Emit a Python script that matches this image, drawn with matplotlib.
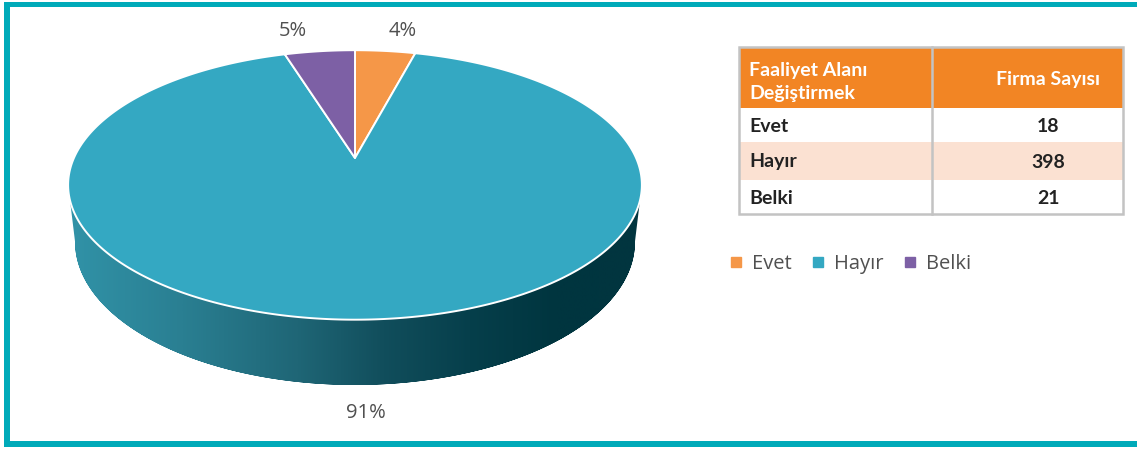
import numpy as np
import matplotlib
matplotlib.use("Agg")
import matplotlib.pyplot as plt
from matplotlib.patches import Polygon, Rectangle
from matplotlib.lines import Line2D
from matplotlib.colors import LinearSegmentedColormap

# --- data -----------------------------------------------------------------
categories = ["Evet", "Hayır", "Belki"]
counts = [18, 398, 21]
percent_labels = ["4%", "91%", "5%"]
slice_colors = ["#f59748", "#34a8c2", "#7d60a5"]
header_labels = ["Faaliyet Alanı\nDeğiştirmek", "Firma Sayısı"]

# --- canvas (pixel coordinates, y downwards) -------------------------------
W, H = 1137, 449
fig = plt.figure(figsize=(W / 100, H / 100), dpi=100)
ax = fig.add_axes([0, 0, 1, 1])
ax.set_xlim(0, W)
ax.set_ylim(H, 0)
ax.axis("off")

# teal frame: left, top and bottom rules
frame_col = "#00aab9"
ax.add_patch(Rectangle((4, 2), 6, 445, color=frame_col, lw=0, zorder=1))
ax.add_patch(Rectangle((4, 2), W, 5, color=frame_col, lw=0, zorder=1))
ax.add_patch(Rectangle((4, 441), W, 6, color=frame_col, lw=0, zorder=1))

# --- perspective 3D pie ----------------------------------------------------
ELEV = np.radians(27.4)   # camera elevation
DIST = 4.44               # camera distance in pie radii
DEPTH = 0.231             # thickness of the disc
SCALE = 1248.0
CX, CY = 355.0, 158.0


def project(x, y, z):
    s, c = np.sin(ELEV), np.cos(ELEV)
    den = DIST + y * c - z * s
    sx = x / den
    sy = (y * s + z * c) / den
    return CX + SCALE * sx, CY - SCALE * sy


t = np.radians(np.linspace(0, 360, 1441))
tx_top, ty_top = project(np.cos(t), np.sin(t), 0.0)
tx_bot, ty_bot = project(np.cos(t), np.sin(t), -DEPTH)

# silhouette points of both rims
i_l_top, i_r_top = np.argmin(tx_top), np.argmax(tx_top)
i_l_bot, i_r_bot = np.argmin(tx_bot), np.argmax(tx_bot)


def front_arc(ang_left, ang_right, z):
    # from left silhouette through the front (270 deg) to right silhouette
    a0 = np.degrees(ang_left)
    a1 = np.degrees(ang_right) + 360.0
    aa = np.radians(np.linspace(a0, a1, 400))
    return project(np.cos(aa), np.sin(aa), z)


ux, uy = front_arc(t[i_l_top], t[i_r_top], 0.0)
lx, ly = front_arc(t[i_l_bot], t[i_r_bot], -DEPTH)
side_xy = np.column_stack([np.r_[ux, lx[::-1]], np.r_[uy, ly[::-1]]])
side_poly = Polygon(side_xy, closed=True, facecolor="none", edgecolor="none")
ax.add_patch(side_poly)

# horizontally shaded side wall
x0, x1 = side_xy[:, 0].min() - 2, side_xy[:, 0].max() + 2
y0, y1 = side_xy[:, 1].min() - 2, side_xy[:, 1].max() + 2
stops = [(0.00, "#3193a8"), (0.20, "#2a7f92"), (0.40, "#1f6676"),
         (0.55, "#114e5c"), (0.70, "#063f4b"), (0.85, "#00353f"),
         (1.00, "#02353f")]
side_cmap = LinearSegmentedColormap.from_list("side", stops)
grad = np.linspace(0, 1, 512)[None, :]
im = ax.imshow(grad, cmap=side_cmap, extent=[x0, x1, y1, y0],
               aspect="auto", interpolation="bilinear", zorder=2)
im.set_clip_path(side_poly)

# top face slices, clockwise from 12 o'clock
fracs = np.array(counts, dtype=float) / np.sum(counts)
start = 90.0
for frac, col in zip(fracs, slice_colors):
    end = start - frac * 360.0
    aa = np.radians(np.linspace(start, end, max(int(abs(end - start) * 4), 8)))
    px, py = project(np.cos(aa), np.sin(aa), 0.0)
    apx, apy = project(0.0, 0.0, 0.0)
    pts = np.column_stack([np.r_[apx, px], np.r_[apy, py]])
    ax.add_patch(Polygon(pts, closed=True, facecolor=col, edgecolor="white",
                         lw=1.4, joinstyle="round", zorder=3))
    start = end

# percentage labels
label_font = dict(family=["Open Sans", "DejaVu Sans"], fontsize=14.5,
                  color="#505050", ha="center", va="center", zorder=5)
label_pos = {"4%": (403, 31), "91%": (366, 413), "5%": (293, 31)}
for lab in percent_labels:
    ax.text(*label_pos[lab], lab, **label_font)

# --- data table ------------------------------------------------------------
tab_left, tab_mid, tab_right = 739, 932, 1123
row_edges = [47, 108, 142, 180, 214]
row_fills = ["#f28524", "#ffffff", "#fbe1d2", "#ffffff"]
for k, fill in enumerate(row_fills):
    ax.add_patch(Rectangle((tab_left, row_edges[k]), tab_right - tab_left,
                           row_edges[k + 1] - row_edges[k],
                           facecolor=fill, edgecolor="none", zorder=3))
border = "#c3c3c3"
ax.add_patch(Rectangle((tab_left, row_edges[0]), tab_right - tab_left,
                       row_edges[-1] - row_edges[0], facecolor="none",
                       edgecolor=border, lw=1.8, zorder=4))
ax.plot([tab_mid, tab_mid], [row_edges[0], row_edges[-1]], color=border,
        lw=1.8, zorder=4)

tab_font = dict(family=["Lato", "DejaVu Sans"], fontsize=14,
                fontweight="bold", zorder=5)
ax.text(749, 82, header_labels[0], color="white", ha="left", va="center",
        linespacing=1.4, **tab_font)
ax.text(1048, 79, header_labels[1], color="white", ha="center", va="center",
        **tab_font)
for k, (cat, n) in enumerate(zip(categories, counts)):
    yc = (row_edges[k + 1] + row_edges[k + 2]) / 2 + 1
    ax.text(749, yc, cat, color="#222222", ha="left", va="center", **tab_font)
    ax.text(1048, yc, str(n), color="#222222", ha="center", va="center",
            **tab_font)

# --- legend ----------------------------------------------------------------
handles = [Line2D([], [], marker="s", linestyle="", markersize=6.5,
                  markerfacecolor=c, markeredgecolor=c) for c in slice_colors]
leg = fig.legend(handles, categories, loc="center left",
                 bbox_to_anchor=(729 / W, 1 - 264 / H), ncol=3, frameon=False,
                 borderpad=0, borderaxespad=0, handlelength=0.7,
                 handletextpad=0.45, columnspacing=0.95,
                 prop=dict(family=["Open Sans", "DejaVu Sans"], size=14.5))
for txt in leg.get_texts():
    txt.set_color("#505050")

fig.savefig("out.png", dpi=100, facecolor="white")
